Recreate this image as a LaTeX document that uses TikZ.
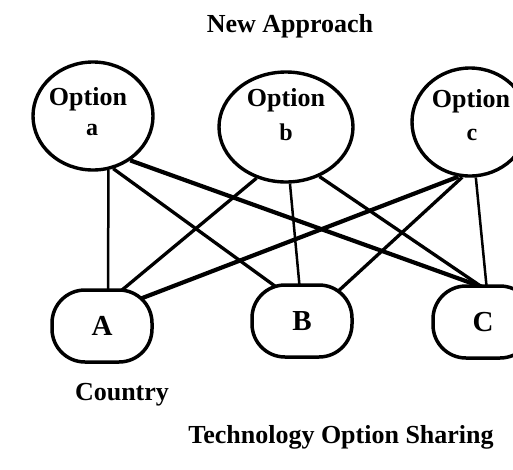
\documentclass[tikz,border=0pt]{standalone}
\usepackage{fontspec}
\setmainfont{Liberation Serif}
\usetikzlibrary{shapes.geometric,calc}
\pgfdeclarelayer{bg}
\pgfsetlayers{bg,main}
\begin{document}
\begin{tikzpicture}[x=1pt,y=-1pt,
  optnode/.style={ellipse, draw, line width=3.4pt, fill=white, inner sep=0pt},
  opttext/.style={anchor=base, inner sep=0pt, font=\bfseries\fontsize{26}{30}\selectfont},
  letter/.style={anchor=base, inner sep=0pt, font=\bfseries\fontsize{24}{28}\selectfont},
  cnode/.style={rectangle, rounded corners=33pt, draw, line width=3.5pt, fill=white,
                minimum width=100pt, minimum height=72pt, inner sep=0pt,
                font=\bfseries\fontsize{29}{34}\selectfont},
  caption/.style={anchor=base, inner sep=0pt, font=\bfseries\fontsize{26}{30}\selectfont},
  link/.style={line width=3.3pt},
  thinlink/.style={line width=2.5pt},
  heavylink/.style={line width=4.2pt}]
\useasboundingbox (0,0) rectangle (513,469);

% headings
\node[caption] (title) at (290,32) {New Approach};
\node[caption] (country) at (122,400) {Country};
\node[caption] (footer) at (341,443) {Technology Option Sharing};

% technology options
\node[optnode, minimum width=120pt, minimum height=108pt] (a) at (93,116) {};
\node[optnode, minimum width=134pt, minimum height=110pt] (b) at (286,127) {};
\node[optnode, minimum width=116pt, minimum height=108pt] (c) at (470,122) {};
\node[opttext] (aO) at (88,105) {Option};
\node[letter]  (aL) at (92,135) {a};
\node[opttext] (bO) at (286,106) {Option};
\node[letter]  (bL) at (286,140) {b};
\node[opttext] (cO) at (471,107) {Option};
\node[letter]  (cL) at (472,140) {c};

% countries
\node[cnode] (A) at (102,326) {A};
\node[cnode] (B) at (302,321) {B};
\node[cnode] (C) at (483,322) {C};

% every option is shared with every country
\begin{pgfonlayer}{bg}
\draw[thinlink]  (a.-74) -- ($(A)+(6,-30)$);
\draw[link]      (a.-69) -- ($(B)+(-23,-32)$);
\draw[heavylink] (a.-50) -- ($(C)+(2,-34)$);
\draw[link]      (b.-120) -- ($(A)+(14,-31)$);
\draw[thinlink]  (b.-86) -- ($(B)+(-2,-30)$);
\draw[link]      (b.-56) -- ($(C)+(2,-33)$);
\draw[heavylink] (c.-102) -- ($(A)+(30,-24)$);
\draw[link]      (c.-98) -- ($(B)+(32,-26)$);
\draw[thinlink]  (c.-84) -- ($(C)+(4,-31)$);
\end{pgfonlayer}
\end{tikzpicture}
\end{document}
